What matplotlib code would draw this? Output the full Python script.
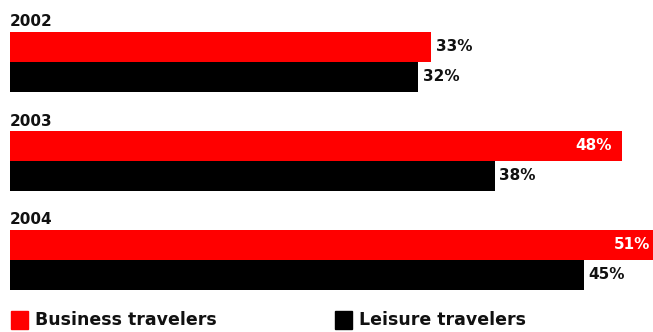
import matplotlib.pyplot as plt
from matplotlib.patches import Rectangle

years = ["2002", "2003", "2004"]
business = [33, 48, 51]
leisure = [32, 38, 45]
business_inside = [False, True, True]
series_names = ["Business travelers", "Leisure travelers"]
colors = ["#ff0000", "#000000"]

W, H = 653, 332
px_per_pct = 12.75
x0 = 10

fig = plt.figure(figsize=(W / 100, H / 100), dpi=100)
ax = fig.add_axes([0, 0, 1, 1])
# x axis in percent, y axis in pixels from the top
ax.set_xlim(-x0 / px_per_pct, (W - x0) / px_per_pct)
ax.set_ylim(H, 0)
ax.axis("off")

font = dict(fontfamily="DejaVu Sans", fontweight="bold", fontsize=11)
bar_h = 30
group_step = 99
first_center = 46.5

for i, year in enumerate(years):
    yc = first_center + i * group_step
    ax.text(0, yc - bar_h / 2 - 2, year, ha="left", va="bottom", color="#111111", **font)

    ax.barh(yc, business[i], height=bar_h, left=0, color=colors[0])
    ax.barh(yc + bar_h, leisure[i], height=bar_h, left=0, color=colors[1])

    if business_inside[i]:
        ax.text(business[i] - 10 / px_per_pct, yc, f"{business[i]}%", ha="right",
                va="center", color="white", **font)
    else:
        ax.text(business[i] + 5 / px_per_pct, yc, f"{business[i]}%", ha="left",
                va="center", color="#111111", **font)
    ax.text(leisure[i] + 5 / px_per_pct, yc + bar_h, f"{leisure[i]}%", ha="left",
            va="center", color="#111111", **font)

# legend
leg_y = 320
leg_x = [11, 335]
for name, c, lx in zip(series_names, colors, leg_x):
    ax.add_patch(Rectangle(((lx - x0) / px_per_pct, leg_y - 9), 17 / px_per_pct, 18,
                           color=c, clip_on=False))
    ax.text((lx + 24 - x0) / px_per_pct, leg_y, name, ha="left", va="center",
            color="#111111", fontfamily="DejaVu Sans", fontweight="bold", fontsize=12.5)

fig.savefig("out.png", dpi=100)
